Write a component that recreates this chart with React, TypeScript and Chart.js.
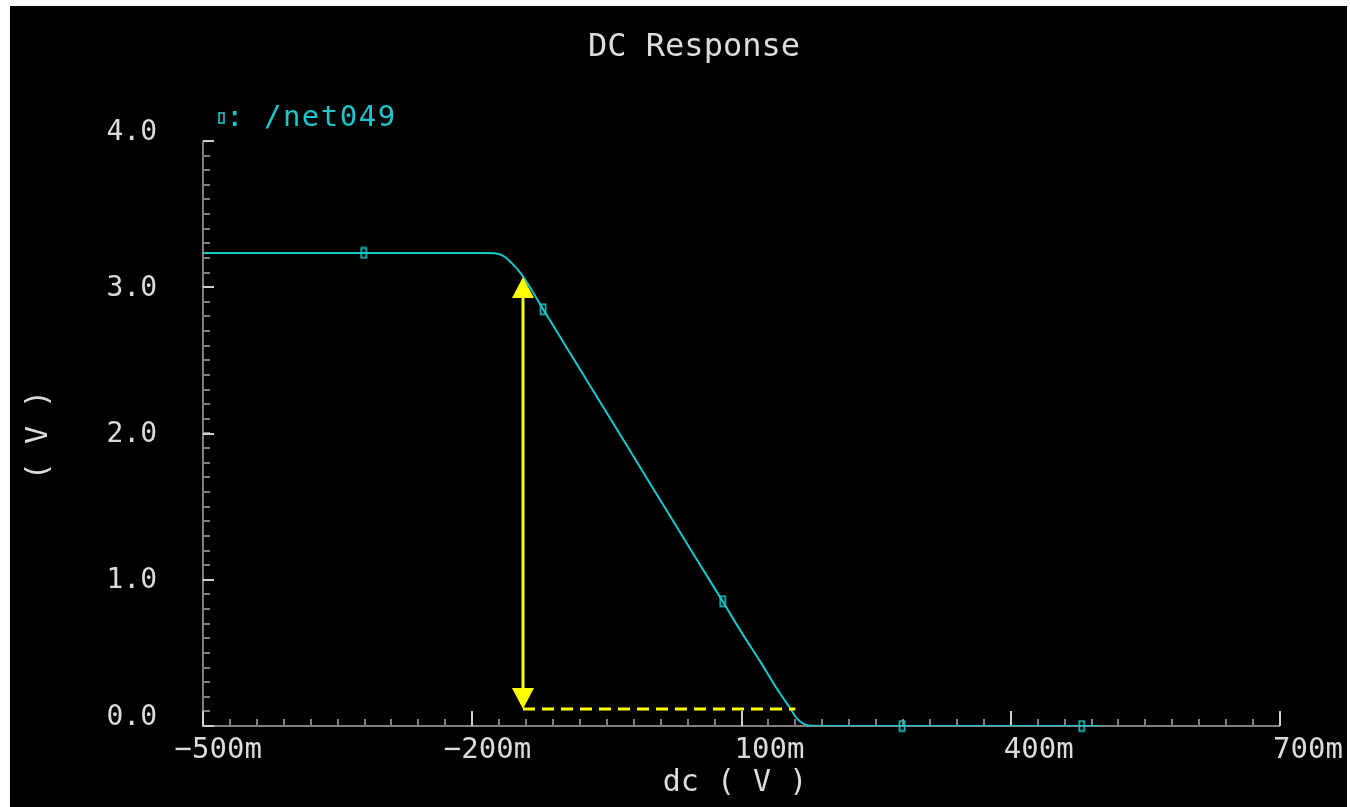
import { useEffect, useRef } from "react";
import { Chart, registerables } from "chart.js";

Chart.register(...registerables);

// DC sweep of the input (mV) and the resulting output voltage on /net049 (V)
const dcSweep = [
  -500, -400, -300, -200, -185, -175, -168, -162, -156, -150, -143, -121,
  -100, -50, 0, 50, 79, 100, 121, 140, 150, 155, 160, 165, 170, 175, 180,
  190, 250, 300, 400, 500,
];
const netVout = [
  3.235, 3.235, 3.235, 3.235, 3.235, 3.232, 3.222, 3.2, 3.165, 3.125, 3.07,
  2.85, 2.64, 2.14, 1.64, 1.14, 0.853, 0.64, 0.44, 0.25, 0.16, 0.115, 0.065,
  0.032, 0.013, 0.004, 0.001, 0, 0, 0, 0, 0,
];

// Trace identification markers placed along the curve
const markerDc = [-321, -121, 79, 279, 479];
const markerVout = [3.235, 2.85, 0.853, 0, 0];

// Axis ranges, tick values and tick labels
const xRange = [-500, 700];
const yRange = [0, 4];
const xMajorTicks = [-500, -200, 100, 400, 700];
const xTickLabels = ["\u2212500m", "\u2212200m", "100m", "400m", "700m"];
const xMinorStep = 30;
const yMajorTicks = [0, 1, 2, 3, 4];
const yTickLabels = ["0.0", "1.0", "2.0", "3.0", "4.0"];
const yMinorStep = 0.1;

// Output swing marker: vertical span at one sweep point, dashed reference to another
const swingDc = -143;
const swingTop = 3.07;
const swingBottom = 0.116;
const swingDashEnd = 160;

const chartTitle = "DC Response";
const traceName = "/net049";
const xTitle = "dc ( V )";
const yTitle = "( V )";

const CYAN = "#18c8cc";
const YELLOW = "#ffff00";
const AXIS = "#808080";
const TEXT = "#dcdcdc";
const FONT = '"DejaVu Sans Mono", "Liberation Mono", monospace';

function makeMarkerImage(): HTMLCanvasElement {
  const c = document.createElement("canvas");
  c.width = 8;
  c.height = 13;
  const g = c.getContext("2d")!;
  g.strokeStyle = CYAN;
  g.lineWidth = 1.6;
  g.strokeRect(1.5, 1.5, 5, 10);
  return c;
}

const framePlugin = {
  id: "waveFrame",
  beforeDatasetsDraw(chart: any) {
    const { ctx } = chart;
    const x = chart.scales.x;
    const y = chart.scales.y;
    const left = Math.round(x.left);
    const bottom = Math.round(y.bottom);
    const top = Math.round(y.top);
    const right = Math.round(x.right);
    ctx.save();

    // title
    ctx.fillStyle = TEXT;
    ctx.font = `32px ${FONT}`;
    ctx.textAlign = "center";
    ctx.textBaseline = "middle";
    ctx.fillText(chartTitle, 684, 42);

    // legend entry
    ctx.strokeStyle = CYAN;
    ctx.lineWidth = 1.6;
    ctx.strokeRect(209, 107, 5, 10);
    ctx.fillStyle = CYAN;
    ctx.font = `29px ${FONT}`;
    ctx.textAlign = "left";
    (ctx as any).letterSpacing = "1.5px";
    ctx.fillText(": " + traceName, 216, 112);
    (ctx as any).letterSpacing = "0px";

    // axis lines
    ctx.strokeStyle = AXIS;
    ctx.lineWidth = 2;
    ctx.beginPath();
    ctx.moveTo(left, top);
    ctx.lineTo(left, bottom);
    ctx.lineTo(right, bottom);
    ctx.stroke();

    // minor ticks
    ctx.beginPath();
    for (let v = xRange[0]; v <= xRange[1] + 1e-6; v += xMinorStep) {
      const px = Math.round(x.getPixelForValue(v));
      ctx.moveTo(px, bottom);
      ctx.lineTo(px, bottom - 7);
    }
    for (let v = yRange[0]; v <= yRange[1] + 1e-6; v += yMinorStep) {
      const py = Math.round(y.getPixelForValue(v));
      ctx.moveTo(left, py);
      ctx.lineTo(left + 7, py);
    }
    ctx.stroke();

    // major ticks
    ctx.strokeStyle = "#d0d0d0";
    ctx.beginPath();
    xMajorTicks.forEach((v) => {
      const px = Math.round(x.getPixelForValue(v));
      ctx.moveTo(px, bottom);
      ctx.lineTo(px, bottom - 15);
    });
    yMajorTicks.forEach((v) => {
      const py = Math.round(y.getPixelForValue(v));
      ctx.moveTo(left, py);
      ctx.lineTo(left + 11, py);
    });
    ctx.stroke();

    // x tick labels: digits start just left of the tick, a minus sign hangs before them
    ctx.fillStyle = TEXT;
    ctx.font = `29px ${FONT}`;
    ctx.textBaseline = "middle";
    ctx.textAlign = "left";
    const minusW = ctx.measureText("\u2212").width;
    xMajorTicks.forEach((v, i) => {
      const px = x.getPixelForValue(v);
      const label = xTickLabels[i];
      const startX = label.startsWith("\u2212") ? px - 7 - minusW - 4 : px - 7;
      ctx.fillText(label, startX, bottom + 24);
    });

    // y tick labels
    ctx.font = `28px ${FONT}`;
    ctx.textAlign = "right";
    yMajorTicks.forEach((v, i) => {
      const py = y.getPixelForValue(v);
      const shift = i === 0 ? -8 : i === yMajorTicks.length - 1 ? -8 : 1;
      ctx.fillText(yTickLabels[i], left - 46, py + shift);
    });

    // axis titles
    ctx.font = `30px ${FONT}`;
    ctx.textAlign = "center";
    ctx.fillText(xTitle, 725, 777);
    ctx.save();
    ctx.translate(29, 429);
    ctx.rotate(-Math.PI / 2);
    ctx.fillText(yTitle, 0, 0);
    ctx.restore();

    ctx.restore();
  },
  afterDatasetsDraw(chart: any) {
    const { ctx } = chart;
    const x = chart.scales.x;
    const y = chart.scales.y;
    const ax = Math.round(x.getPixelForValue(swingDc));
    const yTop = y.getPixelForValue(swingTop);
    const yBot = y.getPixelForValue(swingBottom);
    const headH = 21;
    const headW = 11;
    ctx.save();
    ctx.strokeStyle = YELLOW;
    ctx.fillStyle = YELLOW;
    ctx.lineWidth = 3;
    ctx.beginPath();
    ctx.moveTo(ax, yTop + headH);
    ctx.lineTo(ax, yBot - headH);
    ctx.stroke();
    ctx.beginPath();
    ctx.moveTo(ax, yTop);
    ctx.lineTo(ax - headW, yTop + headH);
    ctx.lineTo(ax + headW, yTop + headH);
    ctx.closePath();
    ctx.fill();
    ctx.beginPath();
    ctx.moveTo(ax, yBot);
    ctx.lineTo(ax - headW, yBot - headH);
    ctx.lineTo(ax + headW, yBot - headH);
    ctx.closePath();
    ctx.fill();
    ctx.setLineDash([12, 7]);
    ctx.beginPath();
    ctx.moveTo(ax, Math.round(yBot));
    ctx.lineTo(x.getPixelForValue(swingDashEnd), Math.round(yBot));
    ctx.stroke();
    ctx.restore();
  },
};

export default function App() {
  const canvasRef = useRef<HTMLCanvasElement | null>(null);

  useEffect(() => {
    const canvas = canvasRef.current;
    if (!canvas) return;
    const marker = makeMarkerImage();
    const chart = new Chart(canvas, {
      type: "line",
      data: {
        datasets: [
          {
            data: dcSweep.map((v, i) => ({ x: v, y: netVout[i] })),
            borderColor: CYAN,
            borderWidth: 2,
            pointRadius: 0,
            cubicInterpolationMode: "monotone",
            fill: false,
          },
          {
            data: markerDc.map((v, i) => ({ x: v, y: markerVout[i] })),
            showLine: false,
            pointStyle: marker as any,
            pointRadius: 6,
            clip: false as any,
          },
        ],
      },
      options: {
        animation: false,
        responsive: false,
        devicePixelRatio: 1,
        layout: { padding: { left: 193, right: 67, top: 135, bottom: 81 } },
        scales: {
          x: { type: "linear", min: xRange[0], max: xRange[1], display: false },
          y: { type: "linear", min: yRange[0], max: yRange[1], display: false },
        },
        plugins: {
          legend: { display: false },
          title: { display: false },
          tooltip: { enabled: false },
        },
        events: [],
      },
      plugins: [framePlugin],
    });
    return () => chart.destroy();
  }, []);

  return (
    <div
      style={{
        position: "absolute",
        left: 10,
        top: 6,
        width: 1337,
        height: 801,
        background: "#000",
      }}
    >
      <canvas ref={canvasRef} width={1337} height={801} style={{ display: "block" }} />
    </div>
  );
}
